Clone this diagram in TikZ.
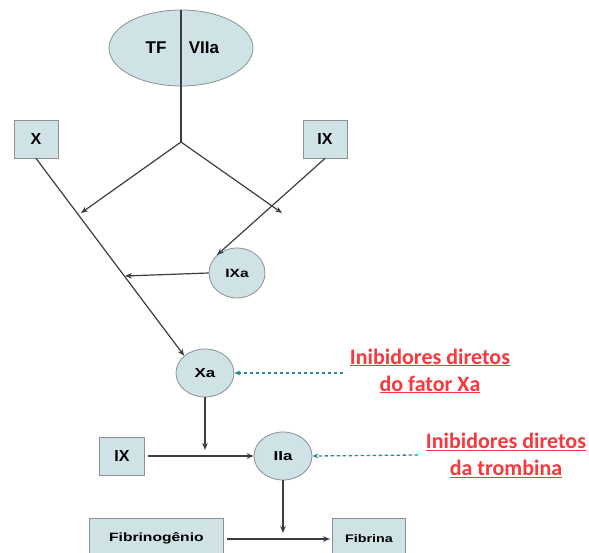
\documentclass[tikz,border=0pt]{standalone}
\usepackage{fontspec}
\setmainfont{Liberation Sans}
\newfontfamily\wideft[FakeStretch=1.3]{Liberation Sans}
\newfontfamily\redfont{Carlito}
\usetikzlibrary{shapes.geometric,arrows.meta}
\definecolor{fillc}{RGB}{207,226,230}
\definecolor{edgec}{RGB}{140,145,150}
\definecolor{linec}{RGB}{60,60,68}
\definecolor{tealc}{RGB}{40,140,140}
\definecolor{redc}{RGB}{250,55,60}
\begin{document}
\begin{tikzpicture}[x=1pt,y=-1pt,
  boxn/.style={draw=edgec,fill=fillc,line width=0.8pt,inner sep=0pt,font=\bfseries\fontsize{16}{18}\selectfont},
  circn/.style={ellipse,draw=edgec,fill=fillc,line width=0.8pt,inner sep=0pt,font=\wideft\bfseries\fontsize{12}{14}\selectfont},
  arr/.style={draw=linec,line width=1.2pt,-{Stealth[length=7pt,width=5.5pt]}},
  ln/.style={draw=linec,line width=1.2pt},
  dasharr/.style={draw=tealc,line width=1.3pt,dash pattern=on 3.5pt off 2.5pt,-{Stealth[length=6pt,width=5pt]}},
  redtxt/.style={text=redc,font=\redfont\bfseries\fontsize{22}{27}\selectfont,align=center}]
\useasboundingbox (0,0) rectangle (589,553);
% TF|VIIa ellipse
\node[circn,minimum width=144pt,minimum height=76pt] (tf) at (181,48) {};
\node[font=\bfseries\fontsize{17}{19}\selectfont] (tft) at (156,48) {TF};
\node[font=\bfseries\fontsize{17}{19}\selectfont] (vt) at (204,48) {VIIa};
\coordinate (j) at (181,142);
\draw[ln] (tf.north) -- (j);
% boxes X, IX
\node[boxn,minimum width=44pt,minimum height=38pt] (x) at (36,139) {X};
\node[boxn,minimum width=44pt,minimum height=38pt] (ix) at (325,139) {IX};
\coordinate (bl) at (81,213);
\coordinate (br) at (282,213);
\draw[arr] (j) -- (bl);
\draw[arr] (j) -- (br);
% IXa
\node[circn,minimum width=56pt,minimum height=50pt] (ixa) at (237,273) {IXa};
\draw[arr] (ix.south) -- (ixa.north west);
\coordinate (ixl) at (125,276);
\draw[arr] (ixa.west) -- (ixl);
% Xa
\node[circn,minimum width=58pt,minimum height=48pt,font=\wideft\bfseries\fontsize{13}{15}\selectfont] (xa) at (205,373) {Xa};
\draw[arr] (x.south) -- (xa.north west);
% IIa
\node[circn,minimum width=58pt,minimum height=48pt,font=\wideft\bfseries\fontsize{13}{15}\selectfont] (iia) at (283,456) {IIa};
\node[boxn,minimum width=45pt,minimum height=38pt] (ix2) at (122,456) {IX};
\draw[arr] (ix2.east) ++(3,0) -- (iia.west);
\coordinate (xad) at (205,450);
\draw[arr] (xa.south) -- (xad);
% fibrin
\node[boxn,minimum width=134pt,minimum height=40pt,font=\wideft\bfseries\fontsize{12}{14}\selectfont,anchor=north west] (fg) at (89,518) {Fibrinogênio};
\node[boxn,minimum width=73pt,minimum height=40pt,font=\wideft\bfseries\fontsize{11}{13}\selectfont,anchor=north west] (fb) at (332,518) {Fibrina};
\draw[arr] ([xshift=3pt]fg.east |- 0,539) -- ([xshift=-2pt]fb.west |- 0,539);
\coordinate (iiad) at (283,533);
\draw[arr] (iia.south) -- (iiad);
% inhibitors
\node[redtxt] (inx) at (430,371) {\underline{Inibidores diretos}\\\underline{do fator Xa}};
\node[redtxt] (inth) at (506,455) {\underline{Inibidores diretos}\\\underline{da trombina}};
\draw[dasharr] (343,373) -- (xa.east);
\draw[dasharr] (418,455) -- (iia.east);
\end{tikzpicture}
\end{document}
